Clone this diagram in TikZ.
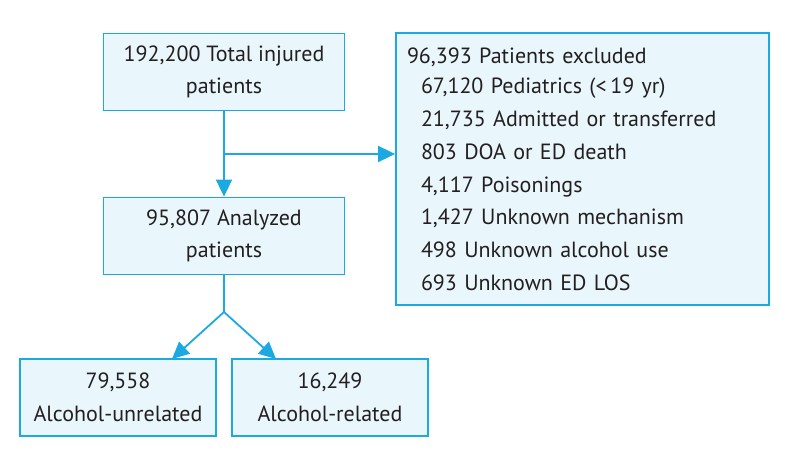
\documentclass[tikz,border=0pt]{standalone}
\usepackage{fontspec}
\setmainfont{PT Sans}
\usetikzlibrary{arrows.meta}
\definecolor{lineblue}{HTML}{1CA9E1}
\definecolor{boxfill}{HTML}{E9F6FC}
\definecolor{txt}{HTML}{231F20}
\tikzset{
  box/.style={draw=lineblue, fill=boxfill, line width=1.8pt, text=txt, align=center,
    font=\fontsize{22}{32.7}\selectfont, inner sep=0pt},
  conn/.style={draw=lineblue, line width=1.8pt},
  arr/.style={conn, -{Triangle[length=17pt, width=16pt]}},
}
\begin{document}
\begin{tikzpicture}[x=1pt,y=-1pt]
\useasboundingbox (0,0) rectangle (796,465);
\node[box, minimum width=241pt, minimum height=77pt] (total) at (224,72) {192,200 Total injured\\patients};
\node[box, minimum width=241pt, minimum height=77pt] (anal) at (224,236) {95,807 Analyzed\\patients};
\node[box, minimum width=373pt, minimum height=272pt, text width=351pt, align=left, inner xsep=11pt] (excl) at (582.5,169) {\raisebox{-2pt}{96,393 Patients excluded}\\
\hspace*{14pt}67,120 Pediatrics (<\,19 yr)\\
\hspace*{14pt}21,735 Admitted or transferred\\
\hspace*{14pt}803 DOA or ED death\\
\hspace*{14pt}4,117 Poisonings\\
\hspace*{14pt}1,427 Unknown mechanism\\
\hspace*{14pt}498 Unknown alcohol use\\
\hspace*{14pt}693 Unknown ED LOS};
\node[box, minimum width=196pt, minimum height=77pt] (unrel) at (118,397.5) {79,558\\Alcohol-unrelated};
\node[box, minimum width=196pt, minimum height=77pt] (rel) at (330,397.5) {16,249\\Alcohol-related};
\coordinate (split) at (224,154);
\coordinate (fork) at (224,312);
\draw[arr] (total.south) -- (anal.north);
\draw[arr] (split) -- (excl.west |- split);
\draw[conn] (anal.south) -- (fork);
\draw[arr] (fork) -- (172,359) coordinate (lt);
\draw[arr] (fork) -- (276,359) coordinate (rt);
\end{tikzpicture}
\end{document}
